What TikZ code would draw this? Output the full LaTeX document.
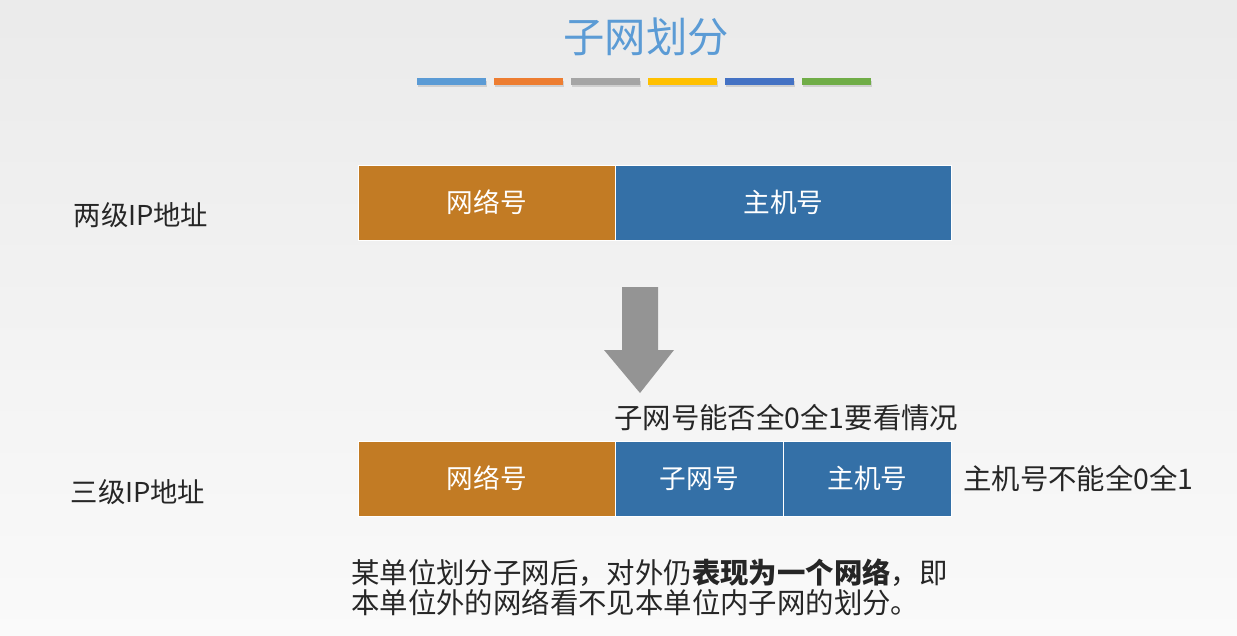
\documentclass[tikz,border=0pt]{standalone}
\usepackage{fontspec}
\setmainfont{Noto Sans CJK SC}
\usepackage{tikz}
\usetikzlibrary{positioning, calc}
\definecolor{titleblue}{RGB}{91, 155, 213}
\definecolor{netorange}{RGB}{194, 123, 36}
\definecolor{hostblue}{RGB}{52, 112, 167}
\definecolor{barA}{RGB}{91, 155, 213}
\definecolor{barB}{RGB}{237, 125, 49}
\definecolor{barC}{RGB}{165, 165, 165}
\definecolor{barD}{RGB}{255, 192, 0}
\definecolor{barE}{RGB}{68, 114, 196}
\definecolor{barF}{RGB}{112, 173, 71}

\begin{document}
\begin{tikzpicture}[x=0.75pt, y=-0.75pt,
  field/.style={draw=white, line width=0.6pt, text=white, inner sep=0pt,
    minimum height=56.25pt, font=\fontsize{20}{24}\selectfont},
  label/.style={text=black!85, inner sep=0pt, font=\fontsize{20.5}{24}\selectfont},
  note/.style={label, font=\fontsize{21.3}{22.5}\selectfont}
]
    % background
    \shade[top color=black!8, bottom color=black!2] (0,0) rectangle (1237,635);
    \useasboundingbox (0,0) rectangle (1237,635);

    \node[titleblue, font=\fontsize{31}{34}\selectfont] (titre) at (646,37) {子网划分};
    \foreach \c [count=\i] in {barA, barB, barC, barD, barE, barF} {
        \fill[black, opacity=0.12] ({417+(\i-1)*77+1}, 80.5) rectangle ++(69, 6.5);
        \fill[\c] ({417+(\i-1)*77}, 78.5) rectangle ++(69, 6.5);
    }

    % two-level address
    \node[field, fill=netorange, minimum width=192.75pt, anchor=west] (net2) at (358,202.5) {网络号};
    \node[field, fill=hostblue, minimum width=252pt, anchor=west] (host2) at (615,202.5) {主机号};
    \node[label] (two) at (141,215) {两级IP地址};

    % arrow
    \fill[black!42] (622,287) -- (658,287) -- (658,350) -- (674,350) -- (640,393)
        -- (604,350) -- (622,350) -- cycle;

    % three-level address
    \node[field, fill=netorange, minimum width=192.75pt, anchor=west] (net3) at (358,478.5) {网络号};
    \node[field, fill=hostblue, minimum width=126pt, anchor=west] (sub3) at (615,478.5) {子网号};
    \node[field, fill=hostblue, minimum width=126pt, anchor=west] (host3) at (783,478.5) {主机号};
    \node[label] (three) at (138,492) {三级IP地址};

    \node[note, anchor=west] (subnote) at (614,418) {子网号能否全0全1要看情况};
    \node[note, anchor=west] (hostnote) at (963,478.5) {主机号不能全0全1};

    \node[note, anchor=north west, align=left] (remark) at (351,559)
        {某单位划分子网后，对外仍{\bfseries 表现为一个网络}，即\\本单位外的网络看不见本单位内子网的划分。};
\end{tikzpicture}
\end{document}
